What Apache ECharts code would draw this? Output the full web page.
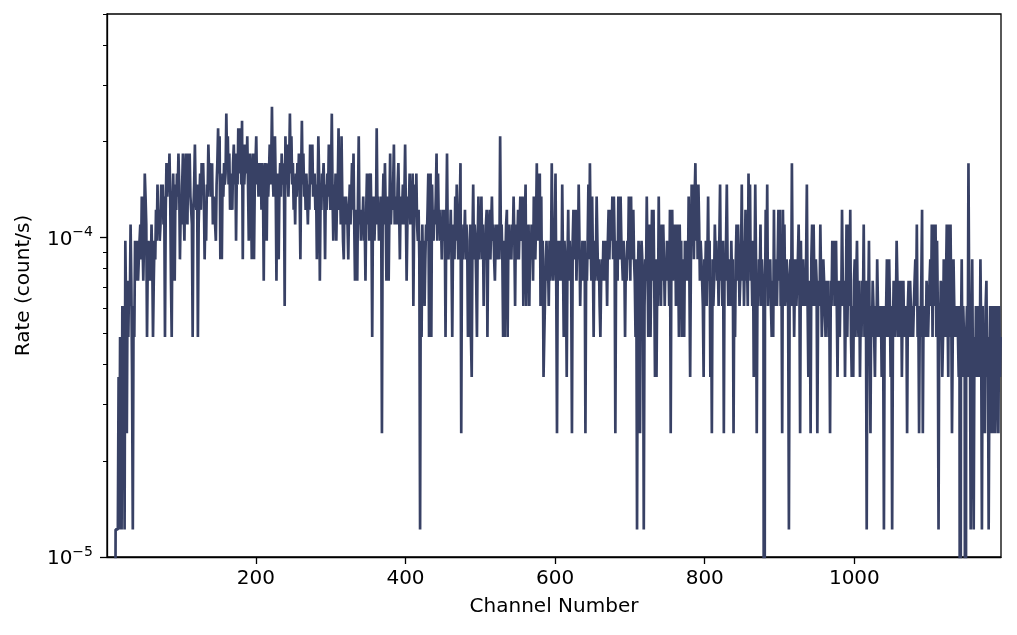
<!DOCTYPE html>
<html>
<head>
<meta charset="utf-8">
<script src="https://cdn.jsdelivr.net/npm/echarts@6/dist/echarts.min.js"></script>
<style>
  html, body { margin: 0; padding: 0; background: #fff; }
  #chart { width: 1017px; height: 635px; }
</style>
</head>
<body>
<div id="chart"></div>
<script>
// spectrum: counts per channel, channel 1 .. 1196
const firstChannel = 1
const lastChannel = 1196
const exposure = 82000 // s, one count ~ 1.22e-5 count/s
const counts = [
  0,0,0,0,0,0,0,0,0,0,0,0,
  1,1,1,1,3,1,4,3,1,5,4,5,1,8,5,2,6,4,6,5,9,6,3,1,
  5,4,8,6,7,8,6,7,8,9,7,11,8,
  6,8,13,11,
  9,4,7,8,6,7,6,9,7,4,6,8,7,10,8,12,9,10,8,9,12,10,12,9,11,4,10,
  14,11,13,12,15,11,6,4,10,13,9,6,12,10,13,11,15,12,7,10,9,12,15,10,8,13,15,11,9,
  15,12,15,11,10,9,4,10,12,16, 11,10,12,4,9,11,13,10,14,12, 14,11,7,10,8,12,11,16,13,14, 11,12,14,9,11,10,
  9,8,12,14,18,13,17,7,12,7,
  13,11,14,12,13,20,14,17,12,15,
  10,13,11,10,14,16,12,15,8,13,
  12,18,13,16,18,12,19,7,16,12,
  14,16,13,17,12,8,14,15,11,7,
  13,15,7,12,14,17,12,14,11,14,
  12,14,10,14,12,6,13,14,11,8,
  14,11,13,16,12,14,21,13,11,14,
  17,12,6,13,10,7,12,14,11,15,
  13,12,14,5,17,12,16,13,11,14,
  20,13,17,12,14,10,12,9,13,11,
  14,12,15,11,7,13,19,12,15,11,
  13,10,13,11,9,12,10,16,12,14,
  16,11,12,13,10,12,7,11,17,13,
  6,11,10,13,12,14,11,
  7,12,10,13,11,16,12,10,13,20,
  11,8,12,10,13,8,11,12,18,10,
  12,9,17,11,8,7,11,9,11,10,
  9,7,10,12,9,11,14,10,15,9,
  6,10,9,6,11,17,9,10,8,10,
  9,11,8,9,6,10,13,9,13,8,
  12,13,9,4,10,11,8,10,9,18,
  10,11,8,10,9,11,2,10,13,9,
  14,10,6,9,11,6,10,15,9,11,
  10,12,16,9,11,10,9,12,14,10,
  7,11,9,10,12,9,11,16,10,6,
  9,11,10,13,9,12,10,13,5,9,
  12,10,13,9,8,10,7,1,8,4,
  9,6,8,5,7,9,8,10,13,4,
  8,13,4,12,9,8,10,9,11,15,
  8,13,9,10,8,9,7,10,8,10,
  9,4,9,15,8,7,9,8,10,7,
  4,8,9,7,11,8,12,9,7,8,
  10,14,2,8,7,9,8,10,7,9,
  8,4,7,4,9,4,3,8,12,7,
  9,8,6,4,8,11,7,9,8,11,
  7,9,5,8,7,9,10,4,8,9,
  10,7,9,11,8,9,7,6,8,9,
  7,8,9,7,17,8,9,7,4,8,
  4,7,9,10,4,8,9,7,8,7,
  9,8,11,8,5,9,7,8,10,7,
  9,11,8,9,11,5,7,9,12,5,
  8,7,9,5,8,7,9,8,6,11,
  8,7,9,14,8,13,9,13,5,11,
  5,8,3,4,
  4,7,8,6,7,5,8,6,7,14,
  8,6,7,8,13,6,2,7,8,6,
  7,8,6,12,7,4,8,7,6,3,
  7,10,6,8,7,6,2,8,10,7,
  9,10,6,8,7,12,8,5,7,6,
  8,7,6,8,2,7,6,8,12,7,
  14,8,6,11,7,4,8,6,7,11,
  8,6,7,5,4,6,7,6,8,7,
  6,8,7,5,8,10,7,9,10,8,
  11,7,11,8,2,7,8,6,11,8,
  7,11,8,7,6,8,7,4,7,6,
  8,7,11,8,6,11,7,8,10,7,
  6,4,7,1,6,8,7,2,6,8,
  7,6,1,5,7,6,11,7,4,8,
  9,4,7,10,6,
  10,6,3,7,3,6,5,11,6,7,
  5,9,6,9,7,5,7,6,8,6,
  7,5,10,2,8,10,6,9,7,9,
  5,8,9,7,4,9,6,8,4,7,
  5,4,8,6,8,7,6,11,6,3,
  7,12,8,12,7,11,14,8,12,7,
  12,9,6,8,7,6,5,3,7,6,
  8,5,7,11,6,8,3,6,2,7,
  5,6,9,7,8,6,7,5,8,12,
  6,7,5,8,2,7,6,8,12,7,
  5,6,7,5,8,6,7,2,6,4,
  7,9,6,9,7,5,6,7,12,6,
  8,5,7,10,6,7,5,13,8,12,
  6,7,5,8,3,6,12,7,2,6,
  5,7,6,9,5,7,6,5,0,
  5,10,6,12,5,7,6,7,5,4,
  6,4,10,5,7,6,5,7,10,6,
  10,5,7,2,10,6,9,5,6,7,
  6,5,1,6,7,5,14,6,7,4,
  6,7,5,6,7,9,6,2,8,5,
  6,7,5,6,5,7,12,5,3,6,
  5,2,7,9,5,9,6,5,7,6,
  2,5,6,5,9,6,4,5,7,6,
  5,4,6,5,6,4,5,2,6,5,
  8,6,8,5,7,8,5,3,6,5,
  4,6,5,10,6,5,6,3,5,9,
  4,6,9,5,10,4,3,5,3,6,
  7,4,6,8,5,4,6,3,5,4,
  6,5,9,4,6,5,1,6,5,8,
  8,2,5,4,6,5,4,3,5,4,
  7,5,4,5,4,5,3,5,4,1,
  5,4,5,7,4,6,7,5,3,5,
  1,4,6,5,4,5,8,6,4,5,
  6,4,6,3,5,6,4,5,4,5,
  2,5,6,4,6,5,4,5,4,5,
  6,7,5,9,4,5,2,5,4,6,
  10,2,5,4,5,4,6,5,4,5,
  6,7,5,9,4,9,5,6,9,4,
  8,5,1,5,4,6,5,3,4,7,
  5,4,6,9,5,3,9,4,9,5,
  2,4,7,5,4,5,4,5,4,3,
  5,0,4,7,3,5,4,3,0,4,
  5,3,14,5,4,1,4,7,3,1,
  4,3,5,4,3,5,4,3,7,4,
  1,5,3,4,2,5,6,3,4,1,
  3,5,2,4,5,2,3,5,2,4,
  5,3,2,5,3,4
]
const xTicks = [200, 400, 600, 800, 1000]
const yMajor = [1e-5, 1e-4]
const yMinor = [2e-5, 3e-5, 4e-5, 5e-5, 6e-5, 7e-5, 8e-5, 9e-5, 2e-4, 3e-4, 4e-4, 5e-4]
const yMin = 1e-5
const yMax = 5e-4
const clipRate = 1e-7 // zero counts drop below the axis (log clip)

const data = counts.map((n, i) => [firstChannel + i, n > 0 ? n / exposure : clipRate])

const font = 'DejaVu Sans'
const lineColor = '#384165'

const chart = echarts.init(document.getElementById('chart'), null, { renderer: 'canvas' })

function supLabel(v) {
  const e = Math.round(Math.log10(v))
  return '{b|10}{s|' + (e < 0 ? '\u2212' : '') + Math.abs(e) + '}'
}

chart.setOption({
  animation: false,
  backgroundColor: '#fff',
  grid: { left: 107, right: 16, top: 14, bottom: 78, show: true, borderColor: '#000', borderWidth: 1.3, backgroundColor: 'transparent' },
  xAxis: {
    type: 'value', min: 1, max: lastChannel,
    name: 'Channel Number', nameLocation: 'middle', nameGap: 40,
    nameTextStyle: { fontFamily: font, fontSize: 20, color: '#000' },
    axisLine: { show: true, lineStyle: { color: '#000', width: 1.3 } },
    axisTick: { show: true, length: 7, customValues: xTicks, lineStyle: { color: '#000', width: 1.3 } },
    axisLabel: { customValues: xTicks, margin: 12, fontFamily: font, fontSize: 20, color: '#000', formatter: v => String(v) },
    splitLine: { show: false }
  },
  yAxis: [
    {
      type: 'log', logBase: 10, min: yMin, max: yMax,
      name: 'Rate (count/s)', nameLocation: 'middle', nameGap: 73, nameRotate: 90,
      nameTextStyle: { fontFamily: font, fontSize: 20, color: '#000' },
      axisLine: { show: true, lineStyle: { color: '#000', width: 1.3 } },
      axisTick: { show: true, length: 7, customValues: yMajor, lineStyle: { color: '#000', width: 1.3 } },
      axisLabel: {
        customValues: yMajor, margin: 14, color: '#000', formatter: supLabel,
        rich: {
          b: { fontFamily: font, fontSize: 20, color: '#000', lineHeight: 24, verticalAlign: 'bottom' },
          s: { fontFamily: font, fontSize: 14, color: '#000', lineHeight: 12, verticalAlign: 'top' }
        }
      },
      splitLine: { show: false }
    },
    {
      type: 'log', logBase: 10, min: yMin, max: yMax, position: 'left',
      axisLine: { show: false },
      axisTick: { show: true, length: 4, customValues: yMinor, lineStyle: { color: '#000', width: 1 } },
      axisLabel: { show: false },
      splitLine: { show: false }
    }
  ],
  series: [{
    type: 'line', data: data, yAxisIndex: 0, step: 'middle',
    showSymbol: false, symbol: 'none', clip: true,
    lineStyle: { color: lineColor, width: 2.7 },
    emphasis: { disabled: true }
  }]
})
</script>
</body>
</html>
